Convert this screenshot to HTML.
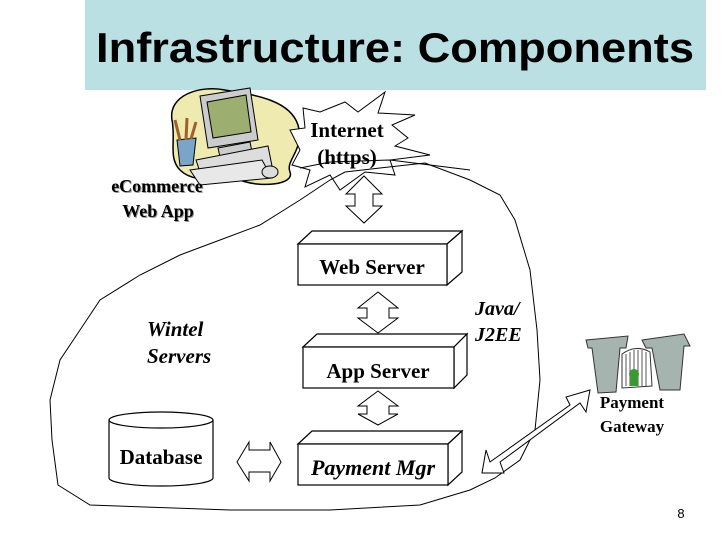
<!DOCTYPE html>
<html><head><meta charset="utf-8"><style>
html,body{margin:0;padding:0;background:#fff;}
svg{display:block;}
</style></head><body>
<svg width="728" height="546" viewBox="0 0 728 546" xmlns="http://www.w3.org/2000/svg">
<rect x="0" y="0" width="728" height="546" fill="#fff"/>
<rect x="85" y="0" width="621" height="90" fill="#bbe0e3"/>
<text x="96" y="62" font-family="Liberation Sans, sans-serif" font-weight="bold" font-size="42" textLength="598" lengthAdjust="spacingAndGlyphs" fill="#000">Infrastructure:  Components</text>

<!-- computer clipart -->
<path d="M172 120 C168 95 200 85 225 90 C255 95 290 100 298 125 C305 150 285 160 290 172 C295 185 260 188 240 180 C220 176 195 185 180 170 C168 158 176 140 172 120Z" fill="#eeeab0" stroke="#000" stroke-width="1.5"/>
<path d="M200 96 L250 88 L258 140 L208 148Z" fill="#ccc" stroke="#000"/>
<path d="M207 102 L246 95 L251 132 L213 138Z" fill="#9cae70" stroke="#000"/>
<path d="M218 148 L250 142 L252 152 L220 157Z" fill="#ccc" stroke="#000"/>
<path d="M196 160 L268 146 L272 166 L202 178Z" fill="#ddd" stroke="#000"/>
<path d="M190 170 L262 160 L272 178 L200 185Z" fill="#e8e8e8" stroke="#000"/>
<path d="M177 140 L196 138 L193 165 L180 166Z" fill="#7aa5c9" stroke="#000"/>
<path d="M180 140 L175 120 M186 140 L187 118 M191 139 L196 122" stroke="#a0602a" stroke-width="3"/>
<ellipse cx="270" cy="172" rx="8" ry="6" fill="#ddd" stroke="#000"/>

<!-- internet starburst -->
<path d="M303 108 L320 112 L345 102 L358 112 L385 92 L378 113 L415 115 L392 125 L408 138 L395 146 L430 155 L390 160 L395 175 L365 172 L340 190 L330 175 L305 187 L310 170 L292 165 L300 150 L290 130 L305 128Z" fill="#fff" stroke="#000" stroke-width="1"/>
<g font-family="Liberation Serif, serif" font-weight="bold" fill="#000">
<text x="347" y="137" font-size="21" text-anchor="middle">Internet</text>
<text x="347" y="164" font-size="21" text-anchor="middle">(https)</text>
</g>

<!-- boundary freeform -->
<path d="M345 172 L380 168 L425 163 L470 180 L500 195 L515 220 L530 270 L537 330 L540 380 L535 430 L520 460 L495 478 L470 490 L420 505 L330 510 L230 510 L90 505 L58 485 L52 440 L50 400 L60 360 L80 330 L100 300 L140 275 L180 255 L220 240 L260 225 L300 200 L330 180Z" fill="none" stroke="#000" stroke-width="1"/>
<path d="M300 168 L330 162 L390 160 L470 170" fill="none" stroke="#000" stroke-width="1"/>

<g font-family="Liberation Serif, serif" font-weight="bold" fill="#000" font-size="18">
<text x="157" y="192" text-anchor="middle" fill="#999" dx="1" dy="1">eCommerce</text>
<text x="157" y="192" text-anchor="middle">eCommerce</text>
<text x="158" y="217" text-anchor="middle" fill="#999" dx="1" dy="1">Web App</text>
<text x="158" y="217" text-anchor="middle">Web App</text>
</g>

<!-- arrows -->
<g fill="#fff" stroke="#000" stroke-width="1">
<path d="M364 176 L382 194 L373 194 L373 206 L382 206 L364 223 L346 206 L355 206 L355 194 L346 194Z"/>
<path d="M378 292 L398 308 L389 308 L389 318 L398 318 L378 333 L358 318 L367 318 L367 308 L358 308Z"/>
<path d="M378 391 L398 406 L389 406 L389 414 L398 414 L378 425 L358 414 L367 414 L367 406 L358 406Z"/>
<path d="M237 462 L249 442 L249 450 L270 450 L270 442 L281 462 L270 481 L270 472 L249 472 L249 481Z"/>
<path d="M482 473 L486 450 L490 462 L570 405 L566 397 L590 390 L586 412 L580 403 L500 462 L504 473Z"/>
</g>

<!-- 3D boxes -->
<g fill="#fff" stroke="#000" stroke-width="1.2">
<path d="M298 244 L312 231 L462 231 L447 244Z"/>
<path d="M447 244 L462 231 L462 272 L447 285Z"/>
<rect x="298" y="244" width="149" height="41"/>
<path d="M303 347 L317 334 L467 334 L454 347Z"/>
<path d="M454 347 L467 334 L467 375 L454 388Z"/>
<rect x="303" y="347" width="151" height="41"/>
<path d="M298 444 L312 431 L462 431 L448 444Z"/>
<path d="M448 444 L462 431 L462 472 L448 485Z"/>
<rect x="298" y="444" width="150" height="41"/>
<path d="M109 420 L109 478 A52 8 0 0 0 213 478 L213 420" />
<ellipse cx="161" cy="420" rx="52" ry="8"/>
</g>
<g font-family="Liberation Serif, serif" font-weight="bold" fill="#000" font-size="21">
<text x="372" y="274" text-anchor="middle">Web Server</text>
<text x="378" y="378" text-anchor="middle">App Server</text>
<text x="373" y="475" text-anchor="middle" font-style="italic" font-size="22">Payment Mgr</text>
<text x="161" y="464" text-anchor="middle">Database</text>
<text x="147" y="336" font-style="italic" font-size="21">Wintel</text>
<text x="147" y="363" font-style="italic" font-size="21">Servers</text>
<text x="475" y="315" font-style="italic" font-size="20">Java/</text>
<text x="475" y="341" font-style="italic" font-size="20">J2EE</text>
<text x="632" y="408" text-anchor="middle" font-size="17">Payment</text>
<text x="632" y="432" text-anchor="middle" font-size="17">Gateway</text>
</g>

<!-- gateway clipart -->
<g stroke="#333" stroke-width="1">
<path d="M586 340 L628 336 L626 348 L620 348 L616 392 L598 393 L592 348 L588 348Z" fill="#a6b4b0"/>
<path d="M642 340 L684 334 L690 346 L684 346 L680 390 L660 390 L652 348 L646 348Z" fill="#a6b4b0"/>
<path d="M622 354 Q636 344 650 352 L652 386 L622 388Z" fill="#fff"/>
<path d="M626 354 L626 386 M630 352 L630 386 M634 350 L634 386 M638 350 L638 386 M642 350 L642 386 M646 352 L646 386" stroke="#555"/>
<circle cx="634" cy="374" r="5" fill="#3a9a30" stroke="none"/>
<rect x="630" y="378" width="8" height="8" fill="#3a9a30" stroke="none"/>
</g>

<text x="681" y="518" font-family="Liberation Sans, sans-serif" font-size="13" text-anchor="middle" fill="#000">8</text>
</svg>
</body></html>
